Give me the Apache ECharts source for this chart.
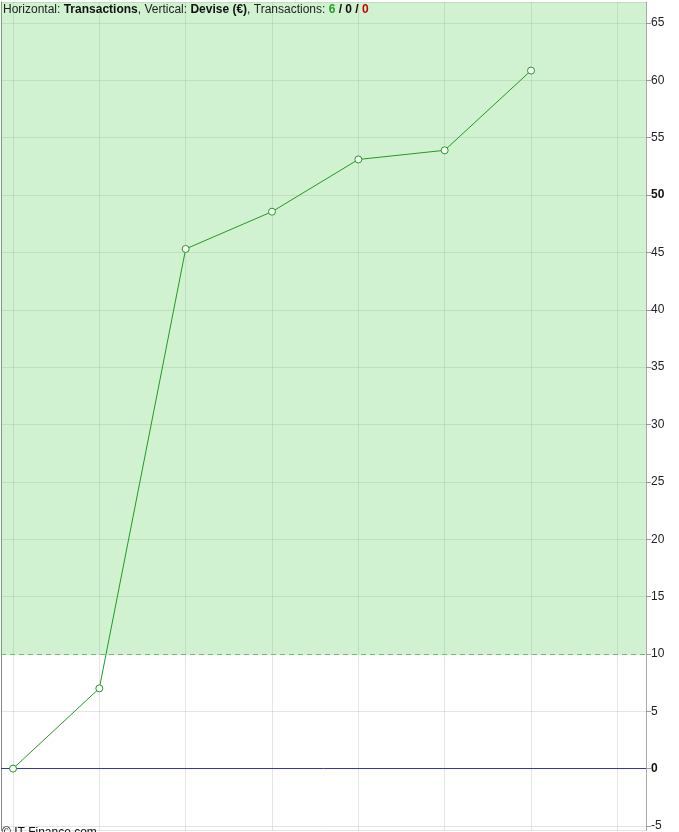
<!DOCTYPE html>
<html>
<head>
<meta charset="utf-8">
<script src="https://cdn.jsdelivr.net/npm/echarts@6/dist/echarts.min.js"></script>
<style>html,body{margin:0;padding:0;background:#fff}#c{width:679px;height:832px}</style>
</head>
<body>
<div id="c"></div>
<script>
var transactions = [0, 1, 2, 3, 4, 5, 6];
var equity = [0, 7.0, 45.3, 48.55, 53.1, 53.9, 60.85];
var Y_MIN = -5.395, Y_MAX = 66.827;
var X_MIN = -0.139, X_MAX = 7.332;
var threshold = 10;
var counts = [6, 0, 0];

var chart = echarts.init(document.getElementById('c'));
var font = '"Liberation Sans", Arial, sans-serif';
var points = transactions.map(function (t, i) { return [t, equity[i]]; });

chart.setOption({
  animation: false,
  textStyle: { fontFamily: font },
  title: [{
    left: 3, top: 4, padding: 0,
    text: '{n|Horizontal: }{b|Transactions}{n|, Vertical: }{b|Devise (€)}{n|, Transactions: }{g|' + counts[0] + '}{b| / ' + counts[1] + ' / }{r|' + counts[2] + '}',
    textStyle: {
      fontWeight: 'normal', fontSize: 12, fontFamily: font,
      rich: {
        n: { fontFamily: font, fontSize: 12, color: '#222', fontWeight: 'normal' },
        b: { fontFamily: font, fontSize: 12, color: '#111', fontWeight: 'bold' },
        g: { fontFamily: font, fontSize: 12, color: '#2a9a2a', fontWeight: 'bold' },
        r: { fontFamily: font, fontSize: 12, color: '#cc0000', fontWeight: 'bold' }
      }
    }
  }, {
    left: 2, top: 827, padding: 0,
    text: '© IT-Finance.com',
    textStyle: { fontFamily: font, fontSize: 12, color: '#111', fontWeight: 'normal' }
  }],
  grid: { left: 1, right: 33, top: 2, bottom: 0 },
  xAxis: {
    type: 'value', min: X_MIN, max: X_MAX, minInterval: 1, maxInterval: 1,
    axisLine: { show: false, onZero: false }, axisTick: { show: false }, axisLabel: { show: false },
    splitLine: { show: true, lineStyle: { color: 'rgba(0,0,0,0.1)', width: 1 } }
  },
  yAxis: [{
    type: 'value', position: 'right', min: Y_MIN, max: Y_MAX, minInterval: 5, maxInterval: 5,
    axisLine: { show: true, onZero: false, lineStyle: { color: '#aaa' } },
    axisTick: { show: true, length: 5, lineStyle: { color: '#999' } },
    axisLabel: {
      margin: 5, fontSize: 12, color: '#222', fontFamily: font,
      showMinLabel: false, showMaxLabel: false,
      formatter: function (v) {
        if (Math.abs(v - Math.round(v)) > 1e-6) return '';
        return (v % 50 === 0) ? '{b|' + v + '}' : String(v);
      },
      rich: { b: { fontWeight: 'bold', fontSize: 12, color: '#111', fontFamily: font } }
    },
    splitLine: { show: true, lineStyle: { color: 'rgba(0,0,0,0.1)', width: 1 } }
  }, {
    type: 'value', position: 'left', min: Y_MIN, max: Y_MAX,
    axisLine: { show: true, onZero: false, lineStyle: { color: '#888', width: 1 } },
    axisTick: { show: false }, axisLabel: { show: false }, splitLine: { show: false }
  }],
  series: [{
    type: 'line',
    data: points,
    z: 5,
    lineStyle: { color: '#229922', width: 1 },
    itemStyle: { color: '#fff', borderColor: '#229922', borderWidth: 1 },
    symbol: 'circle', symbolSize: 7, showSymbol: true,
    markArea: {
      silent: true,
      itemStyle: { color: 'rgba(98,212,98,0.3)' },
      data: [[{ yAxis: threshold }, { yAxis: Y_MAX }]]
    },
    markLine: {
      silent: true, symbol: 'none', label: { show: false },
      data: [
        { yAxis: threshold, lineStyle: { color: '#6cbf6c', type: [5, 4], width: 1 } },
        { yAxis: 0, lineStyle: { color: '#3434b4', type: 'solid', width: 1 } }
      ]
    }
  }]
});
</script>
</body>
</html>
